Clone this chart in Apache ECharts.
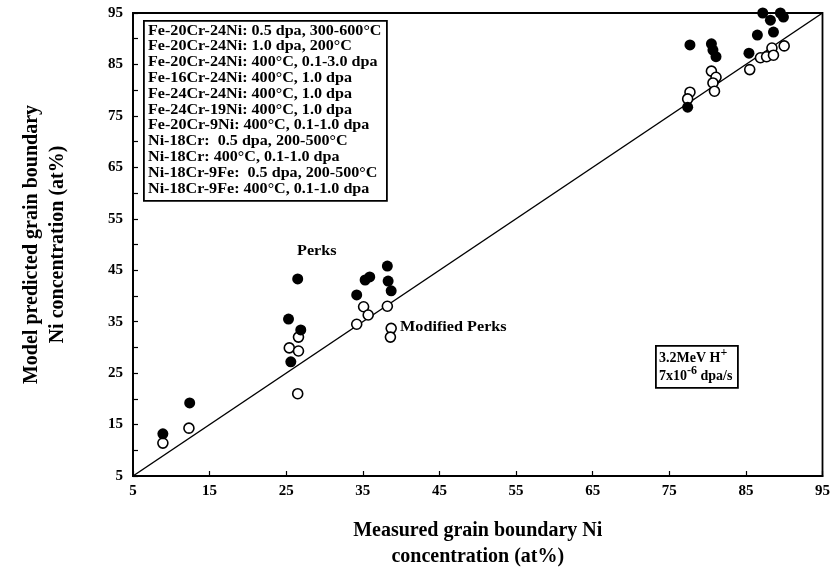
<!DOCTYPE html>
<html><head><meta charset="utf-8">
<script src="https://cdn.jsdelivr.net/npm/echarts@6/dist/echarts.min.js"></script>
<style>html,body{margin:0;padding:0;background:#fff}#c{width:833px;height:578px}</style>
</head><body><div id="c"></div>
<script>
// Data
const filledX = [12.4, 8.9, 26.5, 25.3, 26.9, 25.6, 38.2, 35.9, 35.3, 38.3, 34.2, 38.7, 77.7, 80.5, 80.7, 81.1, 77.4, 85.4, 86.5, 88.6, 87.2, 88.2, 89.5, 89.9];
const filledY = [19.2, 13.2, 43.3, 35.5, 33.4, 27.2, 45.8, 43.7, 43.1, 42.9, 40.2, 41.0, 88.8, 89.0, 87.8, 86.5, 76.7, 87.2, 90.7, 91.3, 95.0, 93.6, 95.0, 94.2];
const openX = [8.9, 12.3, 26.6, 25.4, 26.6, 26.5, 35.1, 38.2, 35.7, 34.2, 38.7, 38.6, 80.5, 81.1, 80.7, 80.9, 77.7, 77.4, 85.5, 86.9, 87.7, 88.4, 88.6, 90.0];
const openY = [11.4, 14.3, 32.0, 29.9, 29.3, 21.0, 37.9, 38.0, 36.3, 34.5, 33.7, 32.0, 83.7, 82.5, 81.4, 79.8, 79.6, 78.3, 84.0, 86.3, 86.5, 88.2, 86.8, 88.6];
const diagX = [5, 95];
const diagY = [5, 95];
const legendLines = [
  "Fe-20Cr-24Ni: 0.5 dpa, 300-600°C",
  "Fe-20Cr-24Ni: 1.0 dpa, 200°C",
  "Fe-20Cr-24Ni: 400°C, 0.1-3.0 dpa",
  "Fe-16Cr-24Ni: 400°C, 1.0 dpa",
  "Fe-24Cr-24Ni: 400°C, 1.0 dpa",
  "Fe-24Cr-19Ni: 400°C, 1.0 dpa",
  "Fe-20Cr-9Ni: 400°C, 0.1-1.0 dpa",
  "Ni-18Cr:  0.5 dpa, 200-500°C",
  "Ni-18Cr: 400°C, 0.1-1.0 dpa",
  "Ni-18Cr-9Fe:  0.5 dpa, 200-500°C",
  "Ni-18Cr-9Fe: 400°C, 0.1-1.0 dpa"
];
const axisMin = 5, axisMax = 95, axisStep = 10;

const font = "'Liberation Serif', 'Times New Roman', serif";
const chart = echarts.init(document.getElementById('c'));
const zip = (a, b) => a.map((v, i) => [v, b[i]]);

chart.setOption({
  animation: false,
  backgroundColor: '#fff',
  grid: { left: 133, right: 9, top: 13, bottom: 102, show: true, borderColor: '#000', borderWidth: 1.8, backgroundColor: 'transparent' },
  xAxis: {
    type: 'value', min: axisMin, max: axisMax, interval: axisStep,
    name: 'Measured grain boundary Ni\nconcentration (at%)',
    nameLocation: 'middle', nameGap: 42,
    nameTextStyle: { fontFamily: font, fontWeight: 'bold', fontSize: 20, color: '#000', lineHeight: 26 },
    axisLine: { lineStyle: { color: '#000', width: 1.8 } },
    axisTick: { inside: true, length: 5, lineStyle: { color: '#000', width: 1.2 } },
    axisLabel: { fontFamily: font, fontWeight: 'bold', fontSize: 15, color: '#000', margin: 8 },
    splitLine: { show: false }
  },
  yAxis: {
    type: 'value', min: axisMin, max: axisMax, interval: axisStep,
    name: 'Model predicted grain boundary\nNi concentration (at%)',
    nameLocation: 'middle', nameGap: 62,
    nameTextStyle: { fontFamily: font, fontWeight: 'bold', fontSize: 20, color: '#000', lineHeight: 26 },
    axisLine: { lineStyle: { color: '#000', width: 1.8 } },
    axisTick: { inside: true, length: 5, lineStyle: { color: '#000', width: 1.2 } },
    minorTick: { show: true, splitNumber: 2, length: 5, lineStyle: { color: '#000', width: 1.2 } },
    axisLabel: { fontFamily: font, fontWeight: 'bold', fontSize: 15, color: '#000', margin: 10 },
    splitLine: { show: false }
  },
  series: [
    { type: 'line', data: zip(diagX, diagY), symbol: 'none', lineStyle: { color: '#000', width: 1.5 }, z: 1 },
    { type: 'scatter', data: zip(openX, openY), symbol: 'circle', symbolSize: 10,
      itemStyle: { color: '#fff', borderColor: '#000', borderWidth: 1.6, opacity: 1 }, z: 2 },
    { type: 'scatter', data: zip(filledX, filledY), symbol: 'circle', symbolSize: 11,
      itemStyle: { color: '#000', opacity: 1 }, z: 3 }
  ],
  graphic: [
    { type: 'rect', left: 143, top: 20, shape: { width: 243, height: 180 },
      style: { fill: '#fff', stroke: '#000', lineWidth: 1.8 }, z: 10 },
    { type: 'text', x: 148, y: 23, scaleX: 1.15, z: 11,
      style: { text: legendLines.join('\n'), font: "bold 14px " + font, fill: '#000', lineHeight: 15.8 } },
    { type: 'text', x: 297, y: 244, scaleX: 1.08, z: 11,
      style: { text: 'Perks', font: "bold 15px " + font, fill: '#000' } },
    { type: 'text', x: 400, y: 320, scaleX: 1.08, z: 11,
      style: { text: 'Modified Perks', font: "bold 15px " + font, fill: '#000' } },
    { type: 'rect', left: 655, top: 345, shape: { width: 82, height: 42 },
      style: { fill: '#fff', stroke: '#000', lineWidth: 1.8 }, z: 10 },
    { type: 'text', left: 659, top: 347, z: 11,
      style: {
        text: '{a|3.2MeV H}{s|+}\n{a|7x10}{s|-6}{a| dpa/s}',
        rich: {
          a: { font: "bold 14px " + font, fill: '#000', lineHeight: 18, verticalAlign: 'bottom' },
          s: { font: "bold 12px " + font, fill: '#000', lineHeight: 18, verticalAlign: 'top', padding: [0, 0, 6, 0] }
        }
      } }
  ]
});
</script></body></html>
